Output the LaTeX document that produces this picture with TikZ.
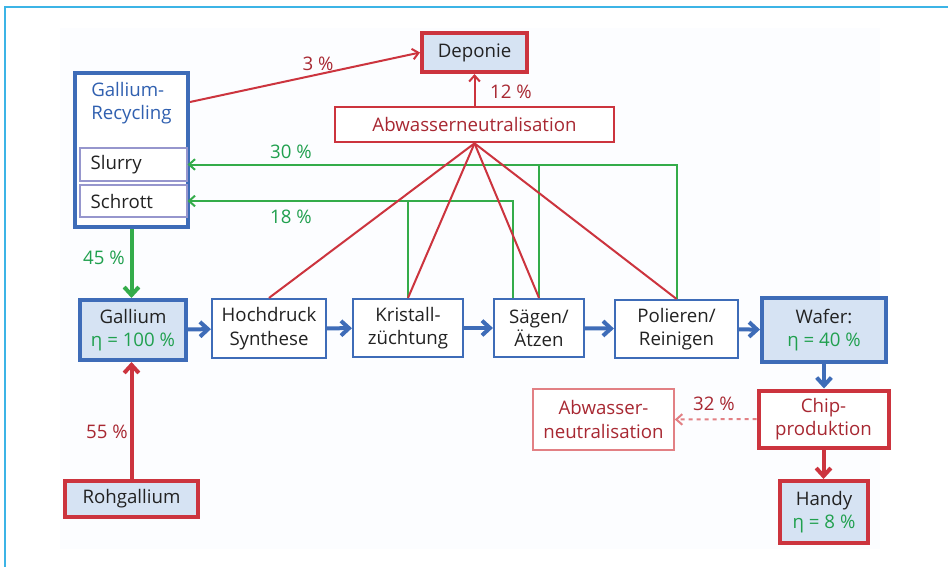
\documentclass[tikz,border=0pt]{standalone}
\usepackage{fontspec}
\setmainfont{Open Sans}
\usetikzlibrary{arrows.meta,calc}
\definecolor{bl}{RGB}{62,108,184}
\definecolor{bltx}{RGB}{48,96,176}
\definecolor{lb}{RGB}{214,227,243}
\definecolor{rd}{RGB}{204,52,62}
\definecolor{rdtx}{RGB}{168,40,50}
\definecolor{lrd}{RGB}{226,128,132}
\definecolor{gr}{RGB}{52,172,74}
\definecolor{grtx}{RGB}{32,160,78}
\definecolor{tx}{RGB}{34,34,34}
\definecolor{frame}{RGB}{60,180,230}
\definecolor{inb}{RGB}{150,150,205}
\definecolor{bgc}{RGB}{252,253,255}
\begin{document}
\begin{tikzpicture}[x=0.75pt,y=-0.75pt,
  font=\fontsize{14}{17.5}\selectfont,
  sz/.style 2 args={minimum width=#1*0.75pt, minimum height=#2*0.75pt, inner sep=0pt},
  pbox/.style={draw=bl, line width=1.6pt, fill=white, align=center, text=tx},
  bbox/.style={draw=bl, line width=3pt, fill=lb, align=center, text=tx},
  rbox/.style={draw=rd, line width=3pt, fill=lb, align=center, text=tx},
  rwbox/.style={draw=rd, line width=3pt, fill=white, align=center, text=rdtx},
  inbox/.style={draw=inb, line width=0.8pt, fill=white, text=tx, align=left, inner xsep=8pt, text width=107*0.75pt-16pt},
  flow/.style={draw=bl, line width=3pt, -{Straight Barb[length=6pt,width=11pt]}},
  rflow/.style={draw=rd, line width=3pt, -{Straight Barb[length=6pt,width=11pt]}},
  gflow/.style={draw=gr, line width=3pt, -{Straight Barb[length=6pt,width=11pt]}},
  thinr/.style={draw=rd, line width=1.5pt},
  thing/.style={draw=gr, line width=1.5pt},
  thintip/.style={-{Straight Barb[length=4.5pt,width=8pt]}},
  lbl/.style={inner sep=1pt}
]
\useasboundingbox (0,0) rectangle (948,567);
\fill[white] (0,0) rectangle (948,567);
\fill[bgc] (60,28) rectangle (880,549);
\draw[frame, line width=1.2pt] (948,7) -- (5,7) -- (5,567);

% nodes
\node[draw=bl, line width=3pt, fill=white, sz={113}{154}] (recyc) at (131.5,150) {};
\node[anchor=west, align=left, text=bltx, inner sep=0pt] (rtitle) at (91,103) {Gallium-\\Recycling};
\node[inbox, sz={107}{33}] (slurry) at (133.5,164.5) {Slurry};
\node[inbox, sz={107}{32}] (schrott) at (133.5,201) {Schrott};

\node[rbox, sz={105}{39}] (deponie) at (474.5,52.5) {Deponie};
\node[draw=rd, line width=2pt, fill=white, text=rdtx, sz={279}{35}] (abw1) at (474.5,124.5) {Abwasserneutralisation};

\node[bbox, sz={106}{60}] (gallium) at (133,330) {Gallium\\\textcolor{grtx}{η = 100 \%}};
\node[pbox, sz={114}{59}] (hoch) at (269,328.5) {Hochdruck\\Synthese};
\node[pbox, sz={110}{58}] (krist) at (408,328) {Kristall-\\züchtung};
\node[pbox, sz={90}{58}] (saegen) at (539,328) {Sägen/\\Ätzen};
\node[pbox, sz={123}{58}] (polier) at (676.5,329) {Polieren/\\Reinigen};
\node[bbox, sz={124}{64}] (wafer) at (824,330) {Wafer:\\\textcolor{grtx}{η = 40 \%}};

\node[rwbox, sz={130}{57}] (chip) at (823.5,419) {Chip-\\produktion};
\node[draw=lrd, line width=1.2pt, fill=white, text=rdtx, align=center, sz={141}{61}] (abw2) at (603.5,419.5) {Abwasser-\\neutralisation};
\node[rbox, sz={88}{62}] (handy) at (824,512) {Handy\\\textcolor{grtx}{η = 8 \%}};
\node[rbox, sz={133}{36}] (rohg) at (131.5,499) {Rohgallium};

% green recycling lines
\coordinate (s18) at ($(saegen.north)+(-26,0)$);
\draw[thing, thintip] (polier.north) |- (slurry.east);
\draw[thing] (saegen.north) -- (saegen.north |- slurry.east);
\draw[thing, thintip] (s18) |- (schrott.east);
\draw[thing] (krist.north) -- (krist.north |- schrott.east);

% red lines to Abwasserneutralisation
\draw[thinr] (hoch.north) -- (abw1.south);
\draw[thinr] (krist.north) -- (abw1.south);
\draw[thinr] (saegen.north) -- (abw1.south);
\draw[thinr] (polier.north) -- (abw1.south);

\coordinate (rstart) at ($(recyc.north east)+(0,31)$);
\draw[thinr, thintip] (rstart) -- (deponie.west);
\draw[thinr, thintip] (abw1.north) -- (deponie.south);

% main flow
\draw[flow] (gallium) -- (hoch);
\draw[flow] (hoch) -- (krist);
\draw[flow] (krist) -- (saegen);
\draw[flow] (saegen) -- (polier);
\draw[flow] (polier) -- (wafer);
\draw[flow] (wafer.south) -- (wafer.south |- chip.north);
\draw[rflow] (chip.south) -- (chip.south |- handy.north);
\draw[gflow] (recyc.south) -- (recyc.south |- gallium.north);
\draw[rflow] (rohg.north) -- (rohg.north |- gallium.south);
\draw[draw=lrd, line width=1.5pt, dashed, thintip] (chip.west) -- (abw2.east);

% labels
\node[lbl, text=rdtx] (l3) at (318,64) {3 \%};
\node[lbl, text=rdtx] (l12) at (511,92) {12 \%};
\node[lbl, text=grtx] (l30) at (291,152) {30 \%};
\node[lbl, text=grtx] (l18) at (291,217) {18 \%};
\node[lbl, text=grtx] (l45) at (104,258) {45 \%};
\node[lbl, text=rdtx] (l55) at (107,432) {55 \%};
\node[lbl, text=rdtx] (l32) at (714,404) {32 \%};
\end{tikzpicture}
\end{document}
